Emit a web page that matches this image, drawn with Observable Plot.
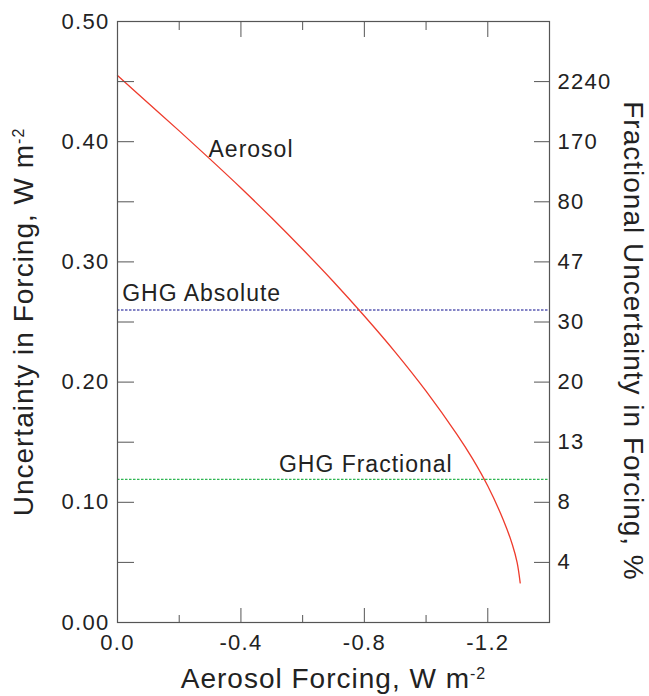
<!DOCTYPE html>
<html><head><meta charset="utf-8">
<script src="https://cdn.jsdelivr.net/npm/d3@7"></script>
<script src="https://cdn.jsdelivr.net/npm/@observablehq/plot@0.6"></script>
<style>html,body{margin:0;padding:0;background:#fff;} svg{display:block}</style>
</head><body><div id="chart"></div>
<script>
// ---- data ----
const aerosolForcing = [0, -0.1, -0.2, -0.3, -0.4, -0.5, -0.6, -0.7, -0.8, -0.9, -1.0, -1.1, -1.15, -1.2, -1.25, -1.28, -1.295, -1.305];
const aerosolUncert  = [0.455, 0.432, 0.409, 0.3855, 0.3615, 0.3365, 0.3105, 0.2835, 0.255, 0.225, 0.1925, 0.1565, 0.1365, 0.1135, 0.0855, 0.0645, 0.050, 0.033];
const ghgAbsolute = 0.26;
const ghgFractional = 0.119;
const xDomain = [0, -1.4];
const yDomain = [0, 0.5];
const xMajorTicks = [0, -0.4, -0.8, -1.2];
const xMinorTicks = [-0.2, -0.6, -1.0];
const yTicks = [0.05, 0.10, 0.15, 0.20, 0.25, 0.30, 0.35, 0.40, 0.45];
const yLabelTicks = [0, 0.1, 0.2, 0.3, 0.4, 0.5];
const rightTicks = [0.05, 0.10, 0.15, 0.20, 0.25, 0.30, 0.35, 0.40, 0.45];
const rightLabels = ["4", "8", "13", "20", "30", "47", "80", "170", "2240"];
const labelText = ["Aerosol", "GHG Absolute", "GHG Fractional"];
const labelX = [-0.295, -0.015, -0.523];
const labelY = [0.3934, 0.2737, 0.1312];
const xTitle = "Aerosol Forcing, W m";
const yTitle = "Uncertainty in Forcing, W m";
const y2Title = "Fractional Uncertainty in Forcing, %";

const curve = aerosolForcing.map((x, i) => ({x, y: aerosolUncert[i]}));
const labels = labelText.map((t, i) => ({t, x: labelX[i], y: labelY[i]}));

const ink = "#555";
const txt = "#222";

const chart = Plot.plot({
  width: 649, height: 696,
  marginLeft: 117, marginRight: 100, marginTop: 21, marginBottom: 74,
  x: {domain: xDomain, label: null},
  y: {domain: yDomain, label: null},
  style: {fontFamily: "'Liberation Sans', Arial, sans-serif", letterSpacing: "1.3px", background: "#fff", color: txt},
  marks: [
    Plot.ruleY([ghgAbsolute], {stroke: "#5c5cb4", strokeWidth: 1.3, strokeDasharray: "2.5,1.5"}),
    Plot.ruleY([ghgFractional], {stroke: "#2fb552", strokeWidth: 1.2, strokeDasharray: "2.5,1.5"}),
    Plot.line(curve, {x: "x", y: "y", stroke: "#ee3b2c", strokeWidth: 1.3, curve: "catmull-rom"}),
    Plot.text(labels, {x: "x", y: "y", text: "t", textAnchor: "start", lineAnchor: "middle", fontSize: 23, fill: txt}),
    // ticks (inward)
    Plot.axisX({anchor: "bottom", ticks: xMajorTicks, tickSize: -14, fill: "none", stroke: ink, label: null}),
    Plot.axisX({anchor: "bottom", ticks: xMinorTicks, tickSize: -7, fill: "none", stroke: ink, label: null}),
    Plot.axisX({anchor: "top", ticks: xMajorTicks, tickSize: -15, fill: "none", stroke: ink, label: null}),
    Plot.axisX({anchor: "top", ticks: xMinorTicks, tickSize: -8, fill: "none", stroke: ink, label: null}),
    Plot.axisY({anchor: "left", ticks: yTicks, tickSize: -17, fill: "none", stroke: ink, label: null}),
    Plot.axisY({anchor: "right", ticks: rightTicks, tickSize: -16, fill: "none", stroke: ink, label: null}),
    // tick labels
    Plot.axisX({anchor: "bottom", ticks: xMajorTicks, tickSize: 0, tickPadding: 12, tickFormat: d => d.toFixed(1), fontSize: 22, fill: txt, label: null}),
    Plot.axisY({anchor: "left", ticks: yLabelTicks, tickSize: 0, tickPadding: 8, tickFormat: d => d.toFixed(2), fontSize: 22, fill: txt, label: null}),
    Plot.axisY({anchor: "right", ticks: rightTicks, tickSize: 0, tickPadding: 8, tickFormat: d => rightLabels[rightTicks.indexOf(d)], fontSize: 22, fill: txt, label: null}),
    Plot.frame({stroke: ink, strokeWidth: 1.2}),
    // titles
    Plot.text([xTitle], {text: d => d, frameAnchor: "bottom", textAnchor: "middle", dy: 57, lineAnchor: "middle", fontSize: 28, fill: txt}),
    Plot.text([yTitle], {text: d => d, frameAnchor: "left", textAnchor: "middle", dx: -93, rotate: -90, lineAnchor: "middle", fontSize: 28, fill: txt}),
    Plot.text([y2Title], {text: d => d, frameAnchor: "right", textAnchor: "middle", dx: 83, dy: 19, rotate: 90, lineAnchor: "middle", fontSize: 28, fill: txt})
  ]
});

document.getElementById("chart").appendChild(chart);

const NS = "http://www.w3.org/2000/svg";
const texts = Array.from(chart.querySelectorAll("text"));
texts.forEach(t => {
  const c = t.textContent;
  if (c === xTitle || c === yTitle || c === y2Title || labelText.includes(c)) t.setAttribute("letter-spacing", "1");
  if (c === xTitle || c === yTitle) {
    const ts = document.createElementNS(NS, "tspan");
    ts.setAttribute("dy", "-9");
    ts.setAttribute("font-size", "16");
    ts.textContent = "-2";
    t.appendChild(ts);
  }
});
</script></body></html>
